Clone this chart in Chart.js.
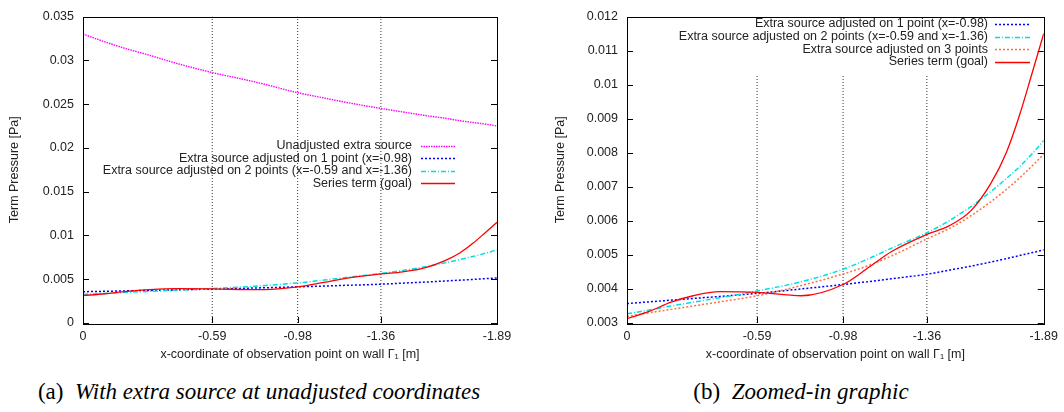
<!DOCTYPE html>
<html>
<head>
<meta charset="utf-8">
<script src="https://cdn.jsdelivr.net/npm/chart.js@4.4.0/dist/chart.umd.min.js"></script>
<style>
  body { margin: 0; background: #fff; width: 1064px; height: 412px; overflow: hidden; position: relative; }
  .box { position: absolute; top: 0; height: 370px; }
  #boxA { left: 0; width: 530px; }
  #boxB { left: 530px; width: 534px; }
  .cap { position: absolute; top: 379px; font-family: 'Liberation Serif', serif; font-size: 23px; color: #000;
         white-space: nowrap; transform: translateX(-50%); }
</style>
</head>
<body>
<div class="box" id="boxA"><canvas id="chartA" width="530" height="370"></canvas></div>
<div class="box" id="boxB"><canvas id="chartB" width="534" height="370"></canvas></div>
<div class="cap" style="left:259px">(a)&nbsp;&nbsp;<i>With extra source at unadjusted coordinates</i></div>
<div class="cap" style="left:801px">(b)&nbsp;&nbsp;<i>Zoomed-in graphic</i></div>

<script>
// x positions along the wall (m)
const xs = [0, -0.1, -0.2, -0.3, -0.42, -0.59, -0.79, -0.98, -1.1, -1.2, -1.36, -1.46, -1.56, -1.65, -1.72, -1.78, -1.84, -1.89];

// series (Pa)
const unadjusted = [0.0330, 0.0321, 0.0313, 0.0306, 0.0297, 0.0286, 0.0275, 0.0263, 0.0257, 0.0252, 0.0245, 0.0241, 0.0237, 0.0234, 0.0231, 0.0229, 0.0227, 0.0225];
const adjusted1 = [0.00357, 0.00362, 0.00367, 0.00372, 0.00378, 0.00387, 0.00400, 0.00413, 0.00422, 0.00430, 0.00443, 0.00455, 0.00467, 0.00479, 0.00489, 0.00498, 0.00507, 0.00515];
const adjusted2 = [0.00327, 0.00338, 0.00350, 0.00361, 0.00374, 0.00394, 0.00421, 0.00458, 0.00490, 0.00520, 0.00565, 0.00600, 0.00642, 0.00686, 0.00724, 0.00759, 0.00799, 0.00836];
const adjusted3 = [0.00319, 0.00330, 0.00340, 0.00350, 0.00362, 0.00380, 0.00410, 0.00444, 0.00470, 0.00497, 0.00547, 0.00577, 0.00615, 0.00656, 0.00692, 0.00726, 0.00763, 0.00796];
const seriesGoal = [0.00313, 0.00334, 0.00361, 0.00380, 0.00392, 0.00390, 0.00380, 0.00413, 0.00465, 0.00510, 0.00560, 0.00585, 0.00630, 0.00710, 0.00800, 0.00910, 0.01040, 0.01150];

// axes
const xTicks = [0, -0.59, -0.98, -1.36, -1.89];
const markX = [-0.59, -0.98, -1.36];   // observation points (dotted verticals)
const markTopB = 0.0103;

const labels = {
  unadjusted: 'Unadjusted extra source',
  adjusted1: 'Extra source adjusted on 1 point (x=-0.98)',
  adjusted2: 'Extra source adjusted on 2 points (x=-0.59 and x=-1.36)',
  adjusted3: 'Extra source adjusted on 3 points',
  goal: 'Series term (goal)'
};

const FONT = "'Liberation Sans', Arial, sans-serif";
const pts = arr => xs.map((x, i) => ({ x: x, y: arr[i] }));

function serie(label, arr, color, dash, width, order) {
  return {
    label: label, data: pts(arr), borderColor: color, borderDash: dash, borderWidth: width,
    pointRadius: 0, cubicInterpolationMode: 'monotone', fill: false, order: order
  };
}

function markers(yBottom, yTop) {
  return markX.map(m => ({
    data: [{ x: m, y: yBottom }, { x: m, y: yTop }], marker: true,
    borderColor: '#333', borderDash: [1, 2], borderWidth: 1, pointRadius: 0, order: 20
  }));
}

// gnuplot-like frame: border + inward ticks
const gnuFrame = {
  id: 'gnuFrame',
  afterDatasetsDraw(chart) {
    const { ctx, chartArea: a, scales: { x, y } } = chart;
    ctx.save();
    ctx.strokeStyle = '#000';
    ctx.lineWidth = 1;
    ctx.beginPath();
    y.ticks.forEach(t => {
      const p = Math.round(y.getPixelForValue(t.value)) + 0.5;
      ctx.moveTo(a.left, p); ctx.lineTo(a.left + 6, p);
      ctx.moveTo(a.right, p); ctx.lineTo(a.right - 6, p);
    });
    x.ticks.forEach(t => {
      const p = Math.round(x.getPixelForValue(t.value)) + 0.5;
      ctx.moveTo(p, a.bottom); ctx.lineTo(p, a.bottom - 6);
    });
    ctx.stroke();
    ctx.strokeRect(Math.round(a.left) + 0.5, Math.round(a.top) + 0.5,
      Math.round(a.right - a.left), Math.round(a.bottom - a.top));
    ctx.restore();
  }
};

// key inside plot: right aligned text, sample on the right
const gnuKey = {
  id: 'gnuKey',
  afterDraw(chart, args, o) {
    const ctx = chart.ctx;
    ctx.save();
    ctx.font = '12.5px ' + FONT;
    ctx.fillStyle = '#222';
    ctx.textAlign = 'right';
    ctx.textBaseline = 'middle';
    let row = 0;
    chart.data.datasets.forEach(ds => {
      if (ds.marker) return;
      const yy = o.top + row * o.step;
      ctx.fillText(ds.label, o.textRight, yy);
      ctx.strokeStyle = ds.borderColor;
      ctx.lineWidth = ds.borderWidth;
      ctx.setLineDash(ds.borderDash || []);
      ctx.beginPath();
      ctx.moveTo(o.sampleLeft, Math.round(yy) + 0.5);
      ctx.lineTo(o.sampleRight, Math.round(yy) + 0.5);
      ctx.stroke();
      row++;
    });
    ctx.restore();
  }
};

function fmtY(v) { return String(parseFloat(v.toFixed(4))); }

function makeChart(id, datasets, yMin, yMax, step, yWidth, padRight, titlePad, key) {
  return new Chart(document.getElementById(id), {
    type: 'line',
    data: { datasets: datasets },
    plugins: [gnuFrame, gnuKey],
    options: {
      responsive: false,
      animation: false,
      layout: { padding: { top: 12, right: padRight, left: 0, bottom: 0 } },
      plugins: { legend: { display: false }, tooltip: { enabled: false }, gnuKey: key },
      scales: {
        x: {
          type: 'linear', reverse: true, min: -1.89, max: 0,
          afterBuildTicks: s => { s.ticks = xTicks.map(v => ({ value: v })); },
          afterFit: s => { s.height = 47; },
          grid: { display: false, drawTicks: false }, border: { display: false },
          ticks: { padding: 6, color: '#222', font: { family: FONT, size: 12.5 },
                   maxRotation: 0, callback: v => v === 0 ? '0' : v.toFixed(2) },
          title: { display: true, text: 'x-coordinate of observation point on wall \u0393\u2081 [m]',
                   color: '#222', font: { family: FONT, size: 12.5 }, padding: { top: 0, bottom: 8 } }
        },
        y: {
          min: yMin, max: yMax,
          afterFit: s => { s.width = yWidth; },
          grid: { display: false, drawTicks: false }, border: { display: false },
          ticks: { stepSize: step, padding: 9, color: '#222', font: { family: FONT, size: 12.5 }, callback: fmtY },
          title: { display: true, text: 'Term Pressure [Pa]', color: '#222',
                   font: { family: FONT, size: 12.5 }, padding: titlePad }
        }
      }
    }
  });
}

makeChart('chartA', [
  serie(labels.unadjusted, unadjusted, '#ff00ff', [1.5, 1], 1.4, 4),
  serie(labels.adjusted1, adjusted1, '#0000ff', [2, 2], 1.5, 3),
  serie(labels.adjusted2, adjusted2, '#00e0e0', [5, 2, 1, 2], 1.5, 2),
  serie(labels.goal, seriesGoal, '#ff0000', [], 1.3, 1)
].concat(markers(0, 0.035)), 0, 0.035, 0.005, 83, 33, { top: 7, bottom: 0 },
  { textRight: 412, sampleLeft: 421, sampleRight: 455, top: 146, step: 12.4 });

makeChart('chartB', [
  serie(labels.adjusted1, adjusted1, '#0000ff', [2, 2], 1.5, 4),
  serie(labels.adjusted2, adjusted2, '#00e0e0', [5, 2, 1, 2], 1.5, 3),
  serie(labels.adjusted3, adjusted3, '#ff7043', [2, 2], 1.5, 2),
  serie(labels.goal, seriesGoal, '#ff0000', [], 1.3, 1)
].concat(markers(0.003, markTopB)), 0.003, 0.012, 0.001, 97, 17, { top: 23, bottom: 0 },
  { textRight: 458, sampleLeft: 465, sampleRight: 500, top: 24, step: 12.6 });
</script>
</body>
</html>
